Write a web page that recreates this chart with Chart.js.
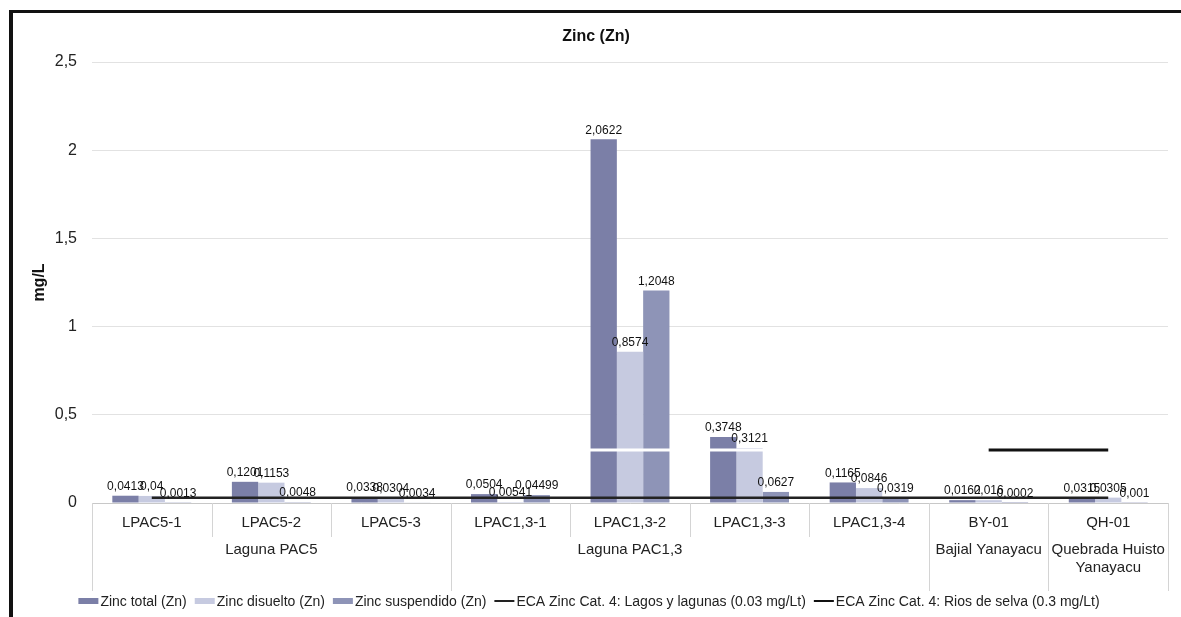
<!DOCTYPE html>
<html>
<head>
<meta charset="utf-8">
<script src="https://cdn.jsdelivr.net/npm/chart.js@4/dist/chart.umd.min.js"></script>
<style>
  html, body { margin: 0; padding: 0; background: #fff; }
  canvas { display: block; }
</style>
</head>
<body>
<canvas id="zn" width="1181" height="617"></canvas>
<script>
// estaciones y grupos (eje X de dos niveles)
const stations = ["LPAC5-1", "LPAC5-2", "LPAC5-3", "LPAC1,3-1", "LPAC1,3-2", "LPAC1,3-3", "LPAC1,3-4", "BY-01", "QH-01"];
const groupLabels = [["Laguna PAC5"], ["Laguna PAC1,3"], ["Bajial Yanayacu"], ["Quebrada Huisto", "Yanayacu"]];
const groupSizes = [3, 4, 1, 1];

// valores (mg/L)
const zincTotal      = [0.0413, 0.1201, 0.0338, 0.0504, 2.0622, 0.3748, 0.1165, 0.0162, 0.0315];
const zincDisuelto   = [0.04,   0.1153, 0.0304, 0.00541, 0.8574, 0.3121, 0.0846, 0.016, 0.0305];
const zincSuspendido = [0.0013, 0.0048, 0.0034, 0.04499, 1.2048, 0.0627, 0.0319, 0.0002, 0.001];
const ecaLagos = [0.03, 0.03, 0.03, 0.03, 0.03, 0.03, 0.03, 0.03, 0.03];
const ecaRios  = [0.3, 0.3, 0.3, 0.3, 0.3, 0.3, 0.3, 0.3, 0.3];
const yMin = 0, yMax = 2.5, yStep = 0.5;

const FONT = '"Liberation Sans", Arial, sans-serif';
const coma = v => String(v).replace(".", ",");

// ríos de selva: sólo visible (negro) en las estaciones de río; en blanco sobre las barras
const rioFrom = 7;

const extras = {
  id: "extras",
  afterDatasetsDraw(chart) {
    const ctx = chart.ctx;
    ctx.save();
    // etiquetas de datos
    ctx.font = "12px " + FONT;
    ctx.fillStyle = "#111";
    ctx.textAlign = "center";
    ctx.textBaseline = "bottom";
    [0, 1, 2].forEach(d => {
      const meta = chart.getDatasetMeta(d);
      meta.data.forEach((bar, i) => {
        ctx.fillText(coma(chart.data.datasets[d].data[i]), bar.x, bar.y - 3);
      });
    });
    ctx.restore();
  },
  afterDraw(chart) {
    const ctx = chart.ctx, area = chart.chartArea;
    const xs = chart.scales.x;
    const W = chart.width;
    ctx.save();

    // marco
    ctx.fillStyle = "#111";
    ctx.fillRect(9, 10, 4, chart.height - 10);
    ctx.fillRect(9, 10, W - 9, 3);

    // título
    ctx.fillStyle = "#111";
    ctx.textAlign = "center";
    ctx.textBaseline = "middle";
    ctx.font = "bold 16px " + FONT;
    ctx.fillText("Zinc (Zn)", 596, 37);

    // título eje Y
    ctx.save();
    ctx.translate(40, (area.top + area.bottom) / 2);
    ctx.rotate(-Math.PI / 2);
    ctx.fillText("mg/L", 0, 0);
    ctx.restore();

    // eje X de dos niveles
    const step = xs.width / stations.length;
    const left = i => xs.getPixelForValue(i) - step / 2;
    ctx.strokeStyle = "#d4d4d4";
    ctx.lineWidth = 1;
    ctx.font = "15px " + FONT;
    ctx.fillStyle = "#222";
    stations.forEach((s, i) => {
      ctx.fillText(s, xs.getPixelForValue(i), area.bottom + 20);
    });
    let start = 0;
    groupSizes.forEach((n, g) => {
      // Excel centra el rótulo sobre la estación central (la de la izquierda si es par)
      const cx = xs.getPixelForValue(start + Math.floor((n - 1) / 2));
      groupLabels[g].forEach((t, k) => ctx.fillText(t, cx, area.bottom + 47 + k * 18));
      const x0 = Math.round(left(start)) + 0.5;
      ctx.beginPath(); ctx.moveTo(x0, area.bottom); ctx.lineTo(x0, area.bottom + 88); ctx.stroke();
      for (let i = start + 1; i < start + n; i++) {
        const xi = Math.round(left(i)) + 0.5;
        ctx.beginPath(); ctx.moveTo(xi, area.bottom); ctx.lineTo(xi, area.bottom + 34); ctx.stroke();
      }
      start += n;
    });
    const xe = Math.round(left(stations.length)) + 0.5;
    ctx.beginPath(); ctx.moveTo(xe, area.bottom); ctx.lineTo(xe, area.bottom + 88); ctx.stroke();

    // leyenda
    ctx.font = "14px " + FONT;
    ctx.textAlign = "left";
    const ds = chart.data.datasets;
    const sw = 20, gapT = 2, gapI = 8;
    const widths = ds.map(d => sw + gapT + ctx.measureText(d.label).width);
    const total = widths.reduce((a, b) => a + b, 0) + gapI * (ds.length - 1);
    let lx = 589 - total / 2;
    const ly = 601;
    ds.forEach((d, i) => {
      if (d.type === "line") {
        ctx.fillStyle = d.legendColor;
        ctx.fillRect(lx, ly - 1, sw, 2);
      } else {
        ctx.fillStyle = d.backgroundColor;
        ctx.fillRect(lx, ly - 3, sw, 6);
      }
      ctx.fillStyle = "#222";
      ctx.fillText(d.label, lx + sw + gapT, ly + 1);
      lx += widths[i] + gapI;
    });
    ctx.restore();
  }
};

new Chart(document.getElementById("zn"), {
  type: "bar",
  data: {
    labels: stations,
    datasets: [
      { label: "Zinc total (Zn)", data: zincTotal, backgroundColor: "#7b7fa7" },
      { label: "Zinc disuelto (Zn)", data: zincDisuelto, backgroundColor: "#c6cae0" },
      { label: "Zinc suspendido (Zn)", data: zincSuspendido, backgroundColor: "#8e94b7" },
      { type: "line", label: "ECA Zinc Cat. 4: Lagos y lagunas (0.03 mg/Lt)", data: ecaLagos,
        borderColor: "#222", legendColor: "#222", borderWidth: 2.5, pointRadius: 0, order: -1 },
      { type: "line", label: "ECA Zinc Cat. 4: Rios de selva (0.3 mg/Lt)", data: ecaRios,
        borderColor: "#111", legendColor: "#111", borderWidth: 3, pointRadius: 0, order: -2,
        segment: { borderColor: c => c.p0DataIndex >= rioFrom ? "#111" : "#fff" } }
    ]
  },
  options: {
    responsive: false,
    animation: false,
    layout: { padding: { left: 12, right: 13, top: 62, bottom: 0 } },
    datasets: { bar: { categoryPercentage: 0.66, barPercentage: 1.0 } },
    plugins: { legend: { display: false }, title: { display: false }, tooltip: { enabled: false } },
    scales: {
      x: {
        ticks: { display: false },
        grid: { display: false },
        border: { color: "#c8c8c8" },
        afterFit: s => { s.height = 114; }
      },
      y: {
        min: yMin, max: yMax,
        ticks: { stepSize: yStep, padding: 15, color: "#222", font: { size: 16, family: FONT },
                 callback: v => coma(v) },
        grid: { color: "#e2e2e2", drawTicks: false },
        border: { display: false },
        afterFit: s => { s.width = 80; }
      }
    }
  },
  plugins: [extras]
});
</script>
</body>
</html>
